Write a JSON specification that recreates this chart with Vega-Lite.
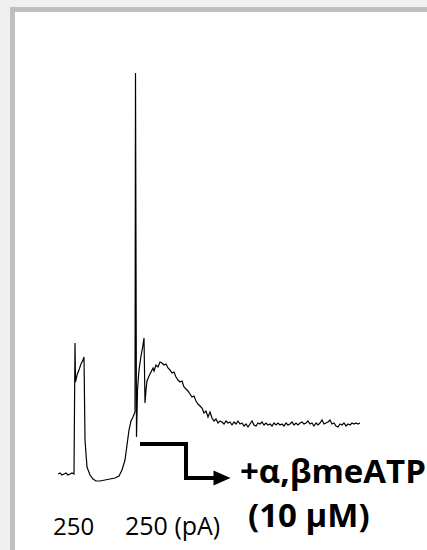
{
  "$schema": "https://vega.github.io/schema/vega-lite/v6.json",
  "width": 427,
  "height": 550,
  "autosize": {"type": "fit", "contains": "padding"},
  "padding": 0,
  "background": "#f0f0f0",
  "config": {"view": {"stroke": null}, "axis": {"disable": true}},
  "data": {"values": [{}]},
  "datasets": {
    "trace": [
      {"t": 0, "i": 0}, {"t": 0.2, "i": 4}, {"t": 0.4, "i": -4}, {"t": 0.6, "i": 0},
      {"t": 0.8, "i": 4}, {"t": 1.0, "i": -4}, {"t": 1.2, "i": 0}, {"t": 1.4, "i": 4},
      {"t": 1.6, "i": 0}, {"t": 1.7, "i": 524}, {"t": 1.75, "i": 368}, {"t": 1.9, "i": 396},
      {"t": 2.1, "i": 416}, {"t": 2.3, "i": 440}, {"t": 2.5, "i": 456}, {"t": 2.6, "i": 468},
      {"t": 2.7, "i": 136}, {"t": 2.9, "i": 28}, {"t": 3.2, "i": -4}, {"t": 3.5, "i": -20},
      {"t": 3.8, "i": -28}, {"t": 4.2, "i": -28}, {"t": 4.7, "i": -24}, {"t": 5.2, "i": -20},
      {"t": 5.7, "i": -16}, {"t": 6.1, "i": -8}, {"t": 6.4, "i": 16}, {"t": 6.7, "i": 56},
      {"t": 6.9, "i": 116}, {"t": 7.1, "i": 176}, {"t": 7.3, "i": 212}, {"t": 7.5, "i": 228},
      {"t": 7.7, "i": 248}, {"t": 7.75, "i": 1604}, {"t": 7.85, "i": 148}, {"t": 7.95, "i": 336},
      {"t": 8.1, "i": 416}, {"t": 8.3, "i": 472}, {"t": 8.5, "i": 516}, {"t": 8.6, "i": 544},
      {"t": 8.7, "i": 284}, {"t": 8.8, "i": 336}, {"t": 8.9, "i": 372}, {"t": 9.1, "i": 392},
      {"t": 9.3, "i": 408}, {"t": 9.5, "i": 424}, {"t": 9.6, "i": 412}, {"t": 9.8, "i": 436},
      {"t": 10.0, "i": 428}, {"t": 10.2, "i": 448}, {"t": 10.4, "i": 444}, {"t": 10.6, "i": 436},
      {"t": 10.8, "i": 440}, {"t": 11.0, "i": 424}, {"t": 11.2, "i": 416}, {"t": 11.4, "i": 404},
      {"t": 11.6, "i": 408}, {"t": 11.8, "i": 388}, {"t": 12.0, "i": 376}, {"t": 12.2, "i": 368},
      {"t": 12.4, "i": 372}, {"t": 12.6, "i": 348}, {"t": 12.8, "i": 340}, {"t": 13.0, "i": 332},
      {"t": 13.2, "i": 320}, {"t": 13.4, "i": 308}, {"t": 13.6, "i": 312}, {"t": 13.8, "i": 292},
      {"t": 14.0, "i": 280}, {"t": 14.2, "i": 272}, {"t": 14.4, "i": 264}, {"t": 14.6, "i": 244},
      {"t": 14.8, "i": 252}, {"t": 15.0, "i": 228}, {"t": 15.2, "i": 248}, {"t": 15.4, "i": 224},
      {"t": 15.6, "i": 212}, {"t": 15.8, "i": 220}, {"t": 16.0, "i": 204}, {"t": 16.2, "i": 212},
      {"t": 16.4, "i": 208}, {"t": 16.6, "i": 200}, {"t": 16.8, "i": 212}, {"t": 17.0, "i": 204},
      {"t": 17.2, "i": 208}, {"t": 17.4, "i": 196}, {"t": 17.6, "i": 208}, {"t": 17.8, "i": 200},
      {"t": 18.0, "i": 212}, {"t": 18.2, "i": 200}, {"t": 18.4, "i": 204}, {"t": 18.6, "i": 192},
      {"t": 18.8, "i": 200}, {"t": 19.0, "i": 188}, {"t": 19.2, "i": 200}, {"t": 19.4, "i": 212},
      {"t": 19.6, "i": 196}, {"t": 19.8, "i": 192}, {"t": 20.0, "i": 204}, {"t": 20.2, "i": 200},
      {"t": 20.4, "i": 208}, {"t": 20.6, "i": 196}, {"t": 20.8, "i": 204}, {"t": 21.0, "i": 196},
      {"t": 21.2, "i": 200}, {"t": 21.4, "i": 192}, {"t": 21.6, "i": 204}, {"t": 21.8, "i": 196},
      {"t": 22.0, "i": 204}, {"t": 22.2, "i": 196}, {"t": 22.4, "i": 200}, {"t": 22.6, "i": 192},
      {"t": 22.8, "i": 204}, {"t": 23.0, "i": 196}, {"t": 23.2, "i": 200}, {"t": 23.4, "i": 208},
      {"t": 23.6, "i": 196}, {"t": 23.8, "i": 204}, {"t": 24.0, "i": 196}, {"t": 24.2, "i": 204},
      {"t": 24.4, "i": 208}, {"t": 24.6, "i": 200}, {"t": 24.8, "i": 204}, {"t": 25.0, "i": 212},
      {"t": 25.2, "i": 200}, {"t": 25.4, "i": 204}, {"t": 25.6, "i": 192}, {"t": 25.8, "i": 204},
      {"t": 26.0, "i": 196}, {"t": 26.2, "i": 204}, {"t": 26.4, "i": 216}, {"t": 26.6, "i": 200},
      {"t": 26.8, "i": 204}, {"t": 27.0, "i": 208}, {"t": 27.2, "i": 216}, {"t": 27.4, "i": 200},
      {"t": 27.6, "i": 204}, {"t": 27.8, "i": 192}, {"t": 28.0, "i": 188}, {"t": 28.2, "i": 200},
      {"t": 28.4, "i": 196}, {"t": 28.6, "i": 204}, {"t": 28.8, "i": 192}, {"t": 29.0, "i": 200},
      {"t": 29.2, "i": 196}, {"t": 29.4, "i": 204}, {"t": 29.6, "i": 200}, {"t": 29.8, "i": 204},
      {"t": 30.0, "i": 200}, {"t": 30.2, "i": 204}
    ],
    "arrow": [
      {"t": 8.2, "i": 120, "k": 0},
      {"t": 12.8, "i": 120, "k": 1},
      {"t": 12.8, "i": -16, "k": 2},
      {"t": 15.8, "i": -16, "k": 3}
    ]
  },
  "layer": [
    {
      "mark": {"type": "rect", "color": "#bfbfbf"},
      "encoding": {
        "x": {"datum": -4.8, "type": "quantitative", "scale": {"domain": [-5.8, 36.9], "nice": false, "zero": false}, "axis": null},
        "x2": {"datum": 36.9},
        "y": {"datum": 1868, "type": "quantitative", "scale": {"domain": [-304, 1896], "nice": false, "zero": false}, "axis": null},
        "y2": {"datum": -304}
      }
    },
    {
      "mark": {"type": "rect", "color": "#ffffff"},
      "encoding": {
        "x": {"datum": -4.3, "type": "quantitative"},
        "x2": {"datum": 36.9},
        "y": {"datum": 1848, "type": "quantitative"},
        "y2": {"datum": -304}
      }
    },
    {
      "data": {"name": "trace"},
      "mark": {"type": "line", "color": "#000000", "strokeWidth": 1.2},
      "encoding": {
        "x": {"field": "t", "type": "quantitative"},
        "y": {"field": "i", "type": "quantitative"}
      }
    },
    {
      "data": {"name": "arrow"},
      "mark": {"type": "line", "color": "#000000", "strokeWidth": 4, "strokeCap": "butt", "strokeJoin": "miter"},
      "encoding": {
        "x": {"field": "t", "type": "quantitative"},
        "y": {"field": "i", "type": "quantitative"},
        "order": {"field": "k"}
      }
    },
    {
      "mark": {"type": "point", "shape": "M-1,-0.88L1,0L-1,0.88Z", "filled": true, "color": "#000000", "size": 289, "opacity": 1},
      "encoding": {
        "x": {"datum": 16.4, "type": "quantitative"},
        "y": {"datum": -16, "type": "quantitative"}
      }
    },
    {
      "mark": {"type": "text", "text": "+α,βmeATP", "align": "left", "baseline": "alphabetic", "font": "Open Sans", "fontSize": 33, "fontWeight": "bold", "color": "#000000"},
      "encoding": {
        "x": {"datum": 18.2, "type": "quantitative"},
        "y": {"datum": -36, "type": "quantitative"}
      }
    },
    {
      "mark": {"type": "text", "text": "(10 μM)", "align": "left", "baseline": "alphabetic", "font": "Open Sans", "fontSize": 33, "fontWeight": "bold", "color": "#000000"},
      "encoding": {
        "x": {"datum": 19.0, "type": "quantitative"},
        "y": {"datum": -212, "type": "quantitative"}
      }
    },
    {
      "mark": {"type": "text", "text": "250", "align": "left", "baseline": "alphabetic", "font": "Open Sans", "fontSize": 24, "color": "#000000"},
      "encoding": {
        "x": {"datum": -0.5, "type": "quantitative"},
        "y": {"datum": -244, "type": "quantitative"}
      }
    },
    {
      "mark": {"type": "text", "text": "250 (pA)", "align": "left", "baseline": "alphabetic", "font": "Open Sans", "fontSize": 25, "color": "#000000"},
      "encoding": {
        "x": {"datum": 6.7, "type": "quantitative"},
        "y": {"datum": -244, "type": "quantitative"}
      }
    }
  ]
}
